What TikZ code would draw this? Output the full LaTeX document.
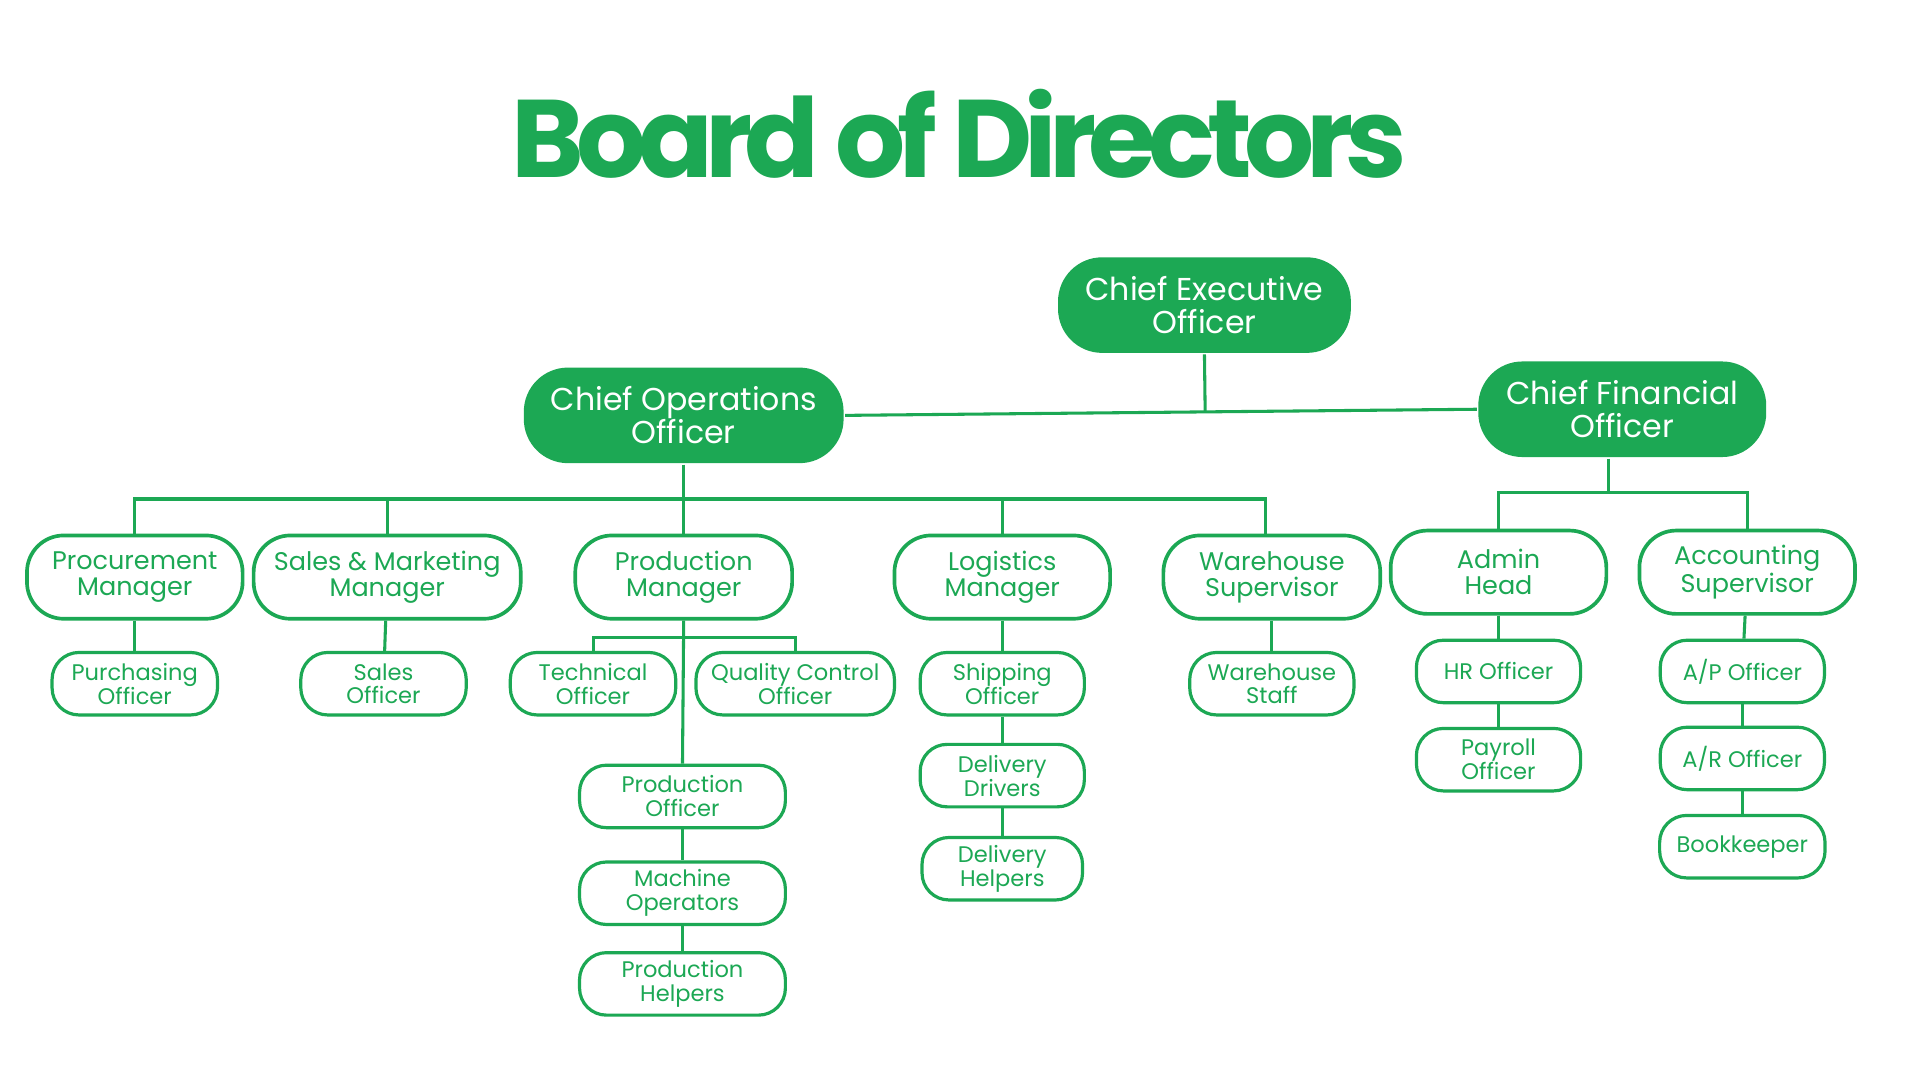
\documentclass[tikz,border=0pt]{standalone}
\usepackage{fontspec}
\setmainfont{Poppins}
\newfontfamily\titlefont[LetterSpace=-7.2]{Poppins}
\usepackage{tikz}
\usetikzlibrary{positioning}
\definecolor{brand}{RGB}{28,168,84}

\begin{document}
\begin{tikzpicture}[x=1pt, y=-1pt, color=brand, line width=2.5pt, node distance=75pt]
	\tikzstyle{chief}=[fill=brand, text=white, rounded corners=36pt, minimum height=78pt, inner sep=0pt, align=center, font=\fontsize{25.8}{27}\selectfont]
	\tikzstyle{head}=[draw=brand, fill=white, text=brand, line width=3pt, rounded corners=30pt, minimum height=68pt, inner sep=0pt, align=center, font=\fontsize{20.8}{21}\selectfont]
	\tikzstyle{staff}=[draw=brand, fill=white, text=brand, line width=2.6pt, rounded corners=22pt, minimum height=51pt, inner sep=0pt, align=center, font=\fontsize{18.4}{19.5}\selectfont]
	\fill[white] (0,0) rectangle (1567,881.4);
	\useasboundingbox (0,0) rectangle (1567,881.4);

	% title
	\node (title) [anchor=base] at (783,145) {\fontsize{90}{90}\selectfont\titlefont\bfseries Board of Directors};

	% chiefs
	\node[chief, minimum width=239pt] (CEO) at (983,249) {Chief Executive\\Officer};
	\node[chief, minimum width=261pt] (COO) at (558,339) {Chief Operations\\Officer};
	\node[chief, minimum width=235pt] (CFO) at (1324,334) {Chief Financial\\Officer};

	% managers
	\node[head, minimum width=176pt] (PRC) at (110,471) {Procurement\\Manager};
	\node[head, minimum width=218pt] (SMM) at (316,471) {Sales \& Marketing\\Manager};
	\node[head, minimum width=177pt] (PRD) at (558,471) {Production\\Manager};
	\node[head, minimum width=176pt] (LOG) at (818,471) {Logistics\\Manager};
	\node[head, minimum width=177pt] (WHS) at (1038,471) {Warehouse\\Supervisor};
	\node[head, minimum width=176pt] (ADM) at (1223,467) {Admin\\Head};
	\node[head, minimum width=176pt] (ACC) at (1426,467) {Accounting\\Supervisor};

	% staff
	\node[staff, minimum width=135pt] (PUR) at (110,558) {Purchasing\\Officer};
	\node[staff, minimum width=135pt] (SLO) at (313,558) {Sales\\Officer};
	\node[staff, minimum width=135pt] (TEC) at (484,558) {Technical\\Officer};
	\node[staff, minimum width=162pt] (QCO) at (649,558) {Quality Control\\Officer};
	\node[staff, minimum width=134pt] (SHP) at (818,558) {Shipping\\Officer};
	\node[staff, minimum width=134pt] (WST) at (1038,558) {Warehouse\\Staff};
	\node[staff, minimum width=134pt] (HRO) at (1223,548) {HR Officer};
	\node[staff, minimum width=134pt] (APO) at (1422,548) {A/P Officer};

	\node[staff, minimum width=168pt] (PO) at (557,650) {Production\\Officer};
	\node[staff, minimum width=168pt, node distance=79pt] (MO) [below of=PO] {Machine\\Operators};
	\node[staff, minimum width=168pt, node distance=74pt] (PH) [below of=MO] {Production\\Helpers};
	\node[staff, minimum width=134pt] (DD) [below of=SHP] {Delivery\\Drivers};
	\node[staff, minimum width=131pt, node distance=76pt] (DH) [below of=DD] {Delivery\\Helpers};
	\node[staff, minimum width=134pt, node distance=72pt] (PAY) [below of=HRO] {Payroll\\Officer};
	\node[staff, minimum width=134pt, node distance=71pt] (ARO) [below of=APO] {A/R Officer};
	\node[staff, minimum width=135pt, node distance=72pt] (BKP) [below of=ARO] {Bookkeeper};

	% lines
	\path (COO.east) -- (CFO.west) coordinate[pos=0.57] (mid);
	\draw (COO.east) -- (CFO.west);
	\draw (CEO.south) -- (mid);
	\draw (COO.south) -- ++(0,28) coordinate (busA);
	\foreach \n in {PRC,SMM,PRD,LOG}
		\draw (busA) -| (\n.north);
	\draw (busA) -| ([xshift=-5pt]WHS.north);
	\draw ([xshift=-11pt]CFO.south) -- ++(0,28) coordinate (busB);
	\foreach \n in {ADM,ACC}
		\draw (busB) -| (\n.north);
	\draw (PRD.south) -- ++(0,14) coordinate (busC);
	\draw (busC) -| (TEC.north);
	\draw (busC) -| (QCO.north);
	\draw (PRD.south) -- (PO.north);
	\path
	(PRC) edge (PUR)
	(SMM) edge (SLO)
	(LOG) edge (SHP)
	(WHS) edge (WST)
	(ADM) edge (HRO)
	(ACC) edge (APO)
	(PO) edge (MO)
	(MO) edge (PH)
	(SHP) edge (DD)
	(DD) edge (DH)
	(HRO) edge (PAY)
	(APO) edge (ARO)
	(ARO) edge (BKP);
\end{tikzpicture}
\end{document}
